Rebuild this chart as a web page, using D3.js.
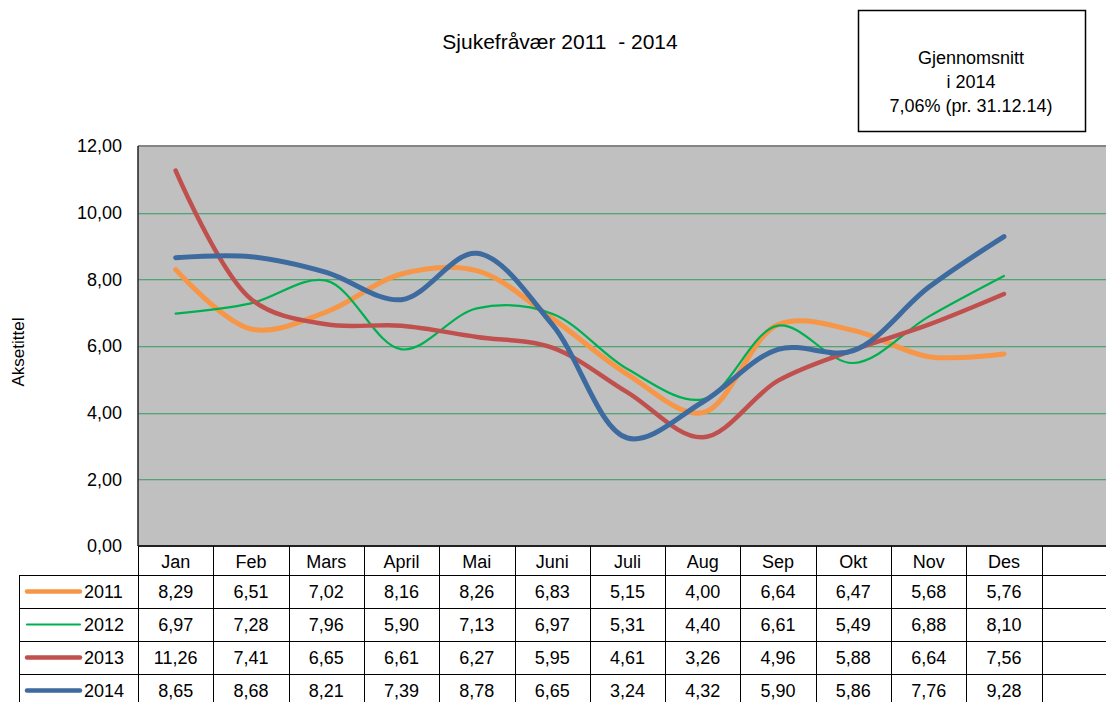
<!DOCTYPE html>
<html>
<head>
<meta charset="utf-8">
<script src="https://cdn.jsdelivr.net/npm/d3@7"></script>
<style>
  body { margin: 0; background: #fff; }
  svg { display: block; font-family: "Liberation Sans", Arial, sans-serif; }
</style>
</head>
<body>
<script>
// data
var months = ["Jan", "Feb", "Mars", "April", "Mai", "Juni", "Juli", "Aug", "Sep", "Okt", "Nov", "Des"];
var years = ["2011", "2012", "2013", "2014"];
var v2011 = [8.29, 6.51, 7.02, 8.16, 8.26, 6.83, 5.15, 4.00, 6.64, 6.47, 5.68, 5.76];
var v2012 = [6.97, 7.28, 7.96, 5.90, 7.13, 6.97, 5.31, 4.40, 6.61, 5.49, 6.88, 8.10];
var v2013 = [11.26, 7.41, 6.65, 6.61, 6.27, 5.95, 4.61, 3.26, 4.96, 5.88, 6.64, 7.56];
var v2014 = [8.65, 8.68, 8.21, 7.39, 8.78, 6.65, 3.24, 4.32, 5.90, 5.86, 7.76, 9.28];
var yTicks = [0, 2, 4, 6, 8, 10, 12];
var title = "Sjukefråvær 2011  - 2014";
var boxLines = ["Gjennomsnitt", "i 2014", "7,06% (pr. 31.12.14)"];

var series = [
  {name: years[0], values: v2011, color: "#f79646", width: 5},
  {name: years[1], values: v2012, color: "#00b050", width: 2.2},
  {name: years[2], values: v2013, color: "#c0504d", width: 4.5},
  {name: years[3], values: v2014, color: "#3d6a9f", width: 5}
];

var W = 1106, H = 702;
var plotLeft = 138, plotTop = 146, plotBottom = 546, colW = 75.3, rowH = 33;

var svg = d3.select("body").append("svg")
  .attr("width", W)
  .attr("height", H);

var fmt = d3.formatLocale({decimal: ",", thousands: " ", grouping: [3], currency: ["", ""]}).format(".2f");

var x = d3.scaleBand()
  .domain(months.concat([""]))
  .range([plotLeft, plotLeft + 13 * colW]);
var y = d3.scaleLinear()
  .domain([0, 12])
  .range([plotBottom, plotTop]);

// plot area
svg.append("rect")
  .attr("x", plotLeft).attr("y", plotTop)
  .attr("width", W - plotLeft).attr("height", plotBottom - plotTop)
  .attr("fill", "#c0c0c0");

svg.selectAll(".grid")
  .data(yTicks.filter(function(d) { return d > 0 && d < 12; }))
  .enter().append("rect")
  .attr("x", plotLeft).attr("width", W - plotLeft)
  .attr("y", function(d) { return Math.round(y(d)); })
  .attr("height", 1.3)
  .attr("fill", "#55a276");

svg.append("line")
  .attr("x1", plotLeft).attr("x2", W).attr("y1", plotTop).attr("y2", plotTop)
  .attr("stroke", "#858585").attr("stroke-width", 2);
svg.append("line")
  .attr("x1", plotLeft).attr("x2", plotLeft).attr("y1", plotTop).attr("y2", plotBottom)
  .attr("stroke", "#222").attr("stroke-width", 1.5);
svg.append("line")
  .attr("x1", plotLeft).attr("x2", W).attr("y1", plotBottom).attr("y2", plotBottom)
  .attr("stroke", "#222").attr("stroke-width", 2);

// y axis
var yAxis = svg.append("g")
  .attr("transform", "translate(" + (plotLeft - 16) + ",0)")
  .call(d3.axisLeft(y).tickValues(yTicks).tickSize(0).tickFormat(fmt));
yAxis.select(".domain").remove();
yAxis.selectAll("text")
  .attr("font-size", "18px")
  .attr("font-family", "Liberation Sans, Arial, sans-serif")
  .attr("fill", "#000")
  .attr("x", 0);

svg.append("text")
  .attr("transform", "translate(24,352) rotate(-90)")
  .attr("text-anchor", "middle")
  .attr("font-size", "17px")
  .text("Aksetittel");

// lines
var line = d3.line()
  .x(function(d, i) { return x(months[i]) + x.bandwidth() / 2; })
  .y(function(d) { return y(d); })
  .curve(d3.curveCatmullRom.alpha(0.5));

svg.selectAll(".series")
  .data(series)
  .enter().append("path")
  .attr("d", function(d) { return line(d.values); })
  .attr("fill", "none")
  .attr("stroke", function(d) { return d.color; })
  .attr("stroke-width", function(d) { return d.width; })
  .attr("stroke-linecap", "round")
  .attr("stroke-linejoin", "round");

// title
svg.append("text")
  .attr("x", 560).attr("y", 49)
  .attr("text-anchor", "middle")
  .attr("font-size", "21px")
  .style("white-space", "pre")
  .text(title);

// info box
svg.append("rect")
  .attr("x", 858.5).attr("y", 10.5)
  .attr("width", 227).attr("height", 121)
  .attr("fill", "#fff").attr("stroke", "#000").attr("stroke-width", 1.5);
svg.selectAll(".box")
  .data(boxLines)
  .enter().append("text")
  .attr("x", 971)
  .attr("y", function(d, i) { return 64 + i * 24; })
  .attr("text-anchor", "middle")
  .attr("font-size", "18px")
  .text(function(d) { return d; });

// data table
var tbl = svg.append("g");
var lineCol = "#000";

// header row
tbl.selectAll(".hdr")
  .data(months)
  .enter().append("text")
  .attr("x", function(d) { return x(d) + x.bandwidth() / 2; })
  .attr("y", plotBottom + 22)
  .attr("text-anchor", "middle")
  .attr("font-size", "18px")
  .text(function(d) { return d; });

// vertical lines
tbl.selectAll(".vl")
  .data(months.concat([""]))
  .enter().append("line")
  .attr("x1", function(d) { return Math.round(x(d)) + 0.5; })
  .attr("x2", function(d) { return Math.round(x(d)) + 0.5; })
  .attr("y1", plotBottom).attr("y2", H)
  .attr("stroke", lineCol).attr("stroke-width", 1);
tbl.append("line")
  .attr("x1", 19.5).attr("x2", 19.5)
  .attr("y1", plotBottom + 29).attr("y2", H)
  .attr("stroke", lineCol);

// horizontal lines
tbl.selectAll(".hl")
  .data(series)
  .enter().append("line")
  .attr("x1", 19).attr("x2", W)
  .attr("y1", function(d, i) { return plotBottom + 29.5 + i * rowH; })
  .attr("y2", function(d, i) { return plotBottom + 29.5 + i * rowH; })
  .attr("stroke", lineCol);

var rows = tbl.selectAll(".row")
  .data(series)
  .enter().append("g")
  .attr("transform", function(d, i) { return "translate(0," + (plotBottom + 29 + i * rowH) + ")"; });

rows.append("line")
  .attr("x1", 27).attr("x2", 80)
  .attr("y1", 16.5).attr("y2", 16.5)
  .attr("stroke", function(d) { return d.color; })
  .attr("stroke-width", function(d) { return Math.min(d.width, 4.5); })
  .attr("stroke-linecap", "round");

rows.append("text")
  .attr("x", 84).attr("y", 23)
  .attr("font-size", "18px")
  .text(function(d) { return d.name; });

rows.selectAll(".val")
  .data(function(d) { return d.values; })
  .enter().append("text")
  .attr("x", function(d, i) { return x(months[i]) + x.bandwidth() / 2; })
  .attr("y", 23)
  .attr("text-anchor", "middle")
  .attr("font-size", "18px")
  .text(function(d) { return fmt(d); });
</script>
</body>
</html>
